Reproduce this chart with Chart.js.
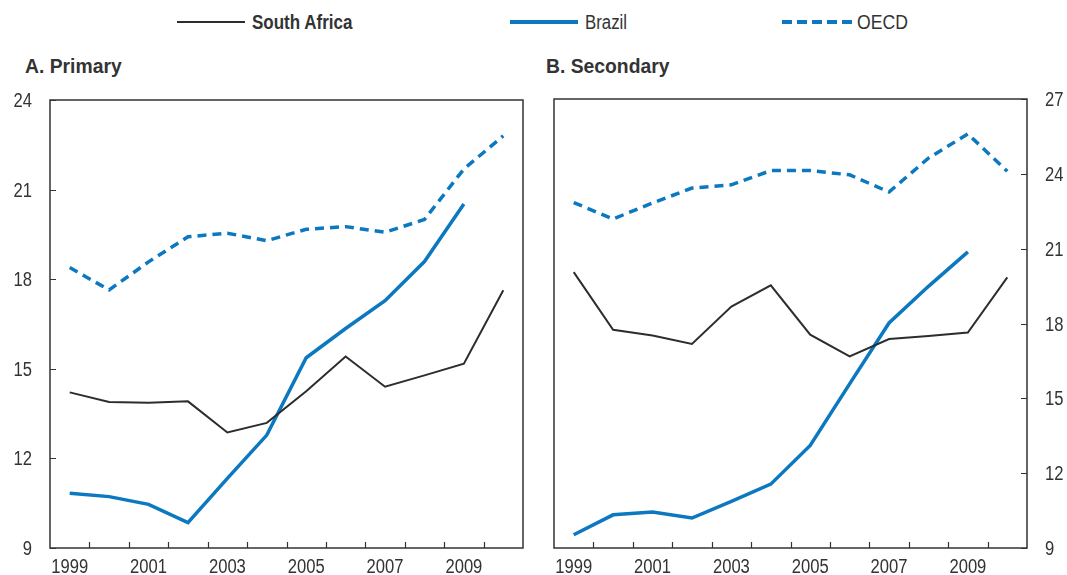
<!DOCTYPE html>
<html>
<head>
<meta charset="utf-8">
<script src="https://cdn.jsdelivr.net/npm/chart.js@4.4.0/dist/chart.umd.min.js"></script>
<style>
  body { margin: 0; background: #fff; width: 1067px; height: 575px; position: relative; overflow: hidden;
         font-family: "Liberation Sans", Arial, sans-serif; color: #333; }
  .lg { position: absolute; top: 12px; font-size: 20px; line-height: 20px; transform-origin: 0 0; white-space: nowrap; }
  .sw { position: absolute; top: 20px; height: 4px; }
  .ttl { position: absolute; top: 55px; font-size: 21px; line-height: 21px; font-weight: bold;
         transform: scaleX(0.92); transform-origin: 0 0; white-space: nowrap; }
  .box { position: absolute; top: 88px; height: 487px; }
</style>
</head>
<body>
<div class="sw" style="left:177px;width:68px;background:#2d2d2d;height:2px;top:21px"></div>
<div class="lg" style="left:252px;font-weight:bold;transform:scaleX(0.85)">South Africa</div>
<div class="sw" style="left:510px;width:68px;background:#0b78bf"></div>
<div class="lg" style="left:585px;transform:scaleX(0.84)">Brazil</div>
<div class="sw" style="left:782px;width:70px;background:repeating-linear-gradient(90deg,#0b78bf 0 10px,transparent 10px 15px)"></div>
<div class="lg" style="left:857px;transform:scaleX(0.88)">OECD</div>

<div class="ttl" style="left:25px">A. Primary</div>
<div class="ttl" style="left:546px">B. Secondary</div>

<div class="box" style="left:0;width:535px"><canvas id="primary"></canvas></div>
<div class="box" style="left:535px;width:532px"><canvas id="secondary"></canvas></div>

<script>
const years = ['1999','2000','2001','2002','2003','2004','2005','2006','2007','2008','2009','2010'];

const primarySouthAfrica = [14.21, 13.89, 13.86, 13.91, 12.87, 13.19, 14.25, 15.41, 14.40, 14.78, 15.17, 17.63];
const primaryBrazil      = [10.83, 10.72, 10.46, 9.85, 11.33, 12.78, 15.37, 16.35, 17.28, 18.59, 20.52, null];
const primaryOECD        = [18.39, 17.64, 18.58, 19.42, 19.54, 19.29, 19.67, 19.76, 19.57, 20.00, 21.69, 22.80];

const secondarySouthAfrica = [20.06, 17.75, 17.52, 17.18, 18.68, 19.53, 17.55, 16.68, 17.38, 17.50, 17.64, 19.85];
const secondaryBrazil      = [9.53, 10.33, 10.44, 10.20, 10.87, 11.56, 13.11, 15.58, 18.02, 19.49, 20.87, null];
const secondaryOECD        = [22.85, 22.19, 22.83, 23.43, 23.56, 24.13, 24.13, 23.96, 23.27, 24.63, 25.60, 24.10];

const primaryRange = [9, 24];
const secondaryRange = [9, 27];

const FONT = '"Liberation Sans", Arial, sans-serif';
const DARK = '#2d2d2d';
const BLUE = '#0b78bf';

// narrow text: the reference uses a condensed face
const narrowText = (ctx, text, x, y, align, sx) => {
  ctx.save();
  ctx.translate(x, y);
  ctx.scale(sx, 1);
  ctx.textAlign = align;
  ctx.fillText(text, 0, 0);
  ctx.restore();
};

// frame, inward tick marks and tick labels
const framePlugin = {
  id: 'frame',
  afterDraw(chart) {
    const { ctx, chartArea: a, scales } = chart;
    const x = scales.x, y = scales.y;
    const onRight = y.position === 'right';
    ctx.save();
    ctx.strokeStyle = '#333';
    ctx.lineWidth = 1.5;
    ctx.strokeRect(a.left, a.top, a.right - a.left, a.bottom - a.top);
    ctx.lineWidth = 1.2;
    ctx.beginPath();
    for (let i = 0; i < years.length - 1; i++) {
      const px = Math.round((x.getPixelForTick(i) + x.getPixelForTick(i + 1)) / 2) + 0.5;
      ctx.moveTo(px, a.bottom);
      ctx.lineTo(px, a.bottom - 6);
    }
    y.ticks.forEach(t => {
      const py = Math.round(y.getPixelForValue(t.value)) + 0.5;
      if (onRight) { ctx.moveTo(a.right, py); ctx.lineTo(a.right - 6, py); }
      else { ctx.moveTo(a.left, py); ctx.lineTo(a.left + 6, py); }
    });
    ctx.stroke();

    ctx.fillStyle = '#333';
    ctx.font = '20px ' + FONT;
    ctx.textBaseline = 'alphabetic';
    years.forEach((yr, i) => {
      if (i % 2 === 0) narrowText(ctx, yr, x.getPixelForTick(i), a.bottom + 25, 'center', 0.83);
    });
    y.ticks.forEach(t => {
      const py = y.getPixelForValue(t.value) + 7;
      if (onRight) narrowText(ctx, String(t.value), a.right + 18, py, 'left', 0.83);
      else narrowText(ctx, String(t.value), a.left - 18, py, 'right', 0.83);
    });
    ctx.restore();
  }
};

const makeChart = (id, sa, br, oecd, range, side, padding, yWidth) => {
  const ctx = document.getElementById(id).getContext('2d');
  return new Chart(ctx, {
    type: 'line',
    data: {
      labels: years,
      datasets: [
        { label: 'South Africa', data: sa, borderColor: DARK, borderWidth: 2, pointRadius: 0 },
        { label: 'Brazil', data: br, borderColor: BLUE, borderWidth: 3.5, pointRadius: 0 },
        { label: 'OECD', data: oecd, borderColor: BLUE, borderWidth: 3.5, borderDash: [9, 6], pointRadius: 0 },
      ],
    },
    options: {
      responsive: true,
      maintainAspectRatio: false,
      animation: false,
      layout: { padding: padding },
      plugins: { legend: { display: false }, tooltip: { enabled: false } },
      scales: {
        x: {
          offset: true,
          grid: { display: false, drawTicks: false },
          border: { display: false },
          ticks: { display: false },
          afterFit: s => { s.height = 27; },
        },
        y: {
          position: side,
          min: range[0], max: range[1],
          grid: { display: false, drawTicks: false },
          border: { display: false },
          ticks: { display: false, stepSize: 3 },
          afterFit: s => { s.width = yWidth; },
        },
      },
    },
    plugins: [framePlugin],
  });
};

makeChart('primary', primarySouthAfrica, primaryBrazil, primaryOECD, primaryRange, 'left',
  { left: 0, top: 12, right: 12, bottom: 0 }, 50);
makeChart('secondary', secondarySouthAfrica, secondaryBrazil, secondaryOECD, secondaryRange, 'right',
  { left: 19, top: 11, right: 0, bottom: 0 }, 40);
</script>
</body>
</html>
